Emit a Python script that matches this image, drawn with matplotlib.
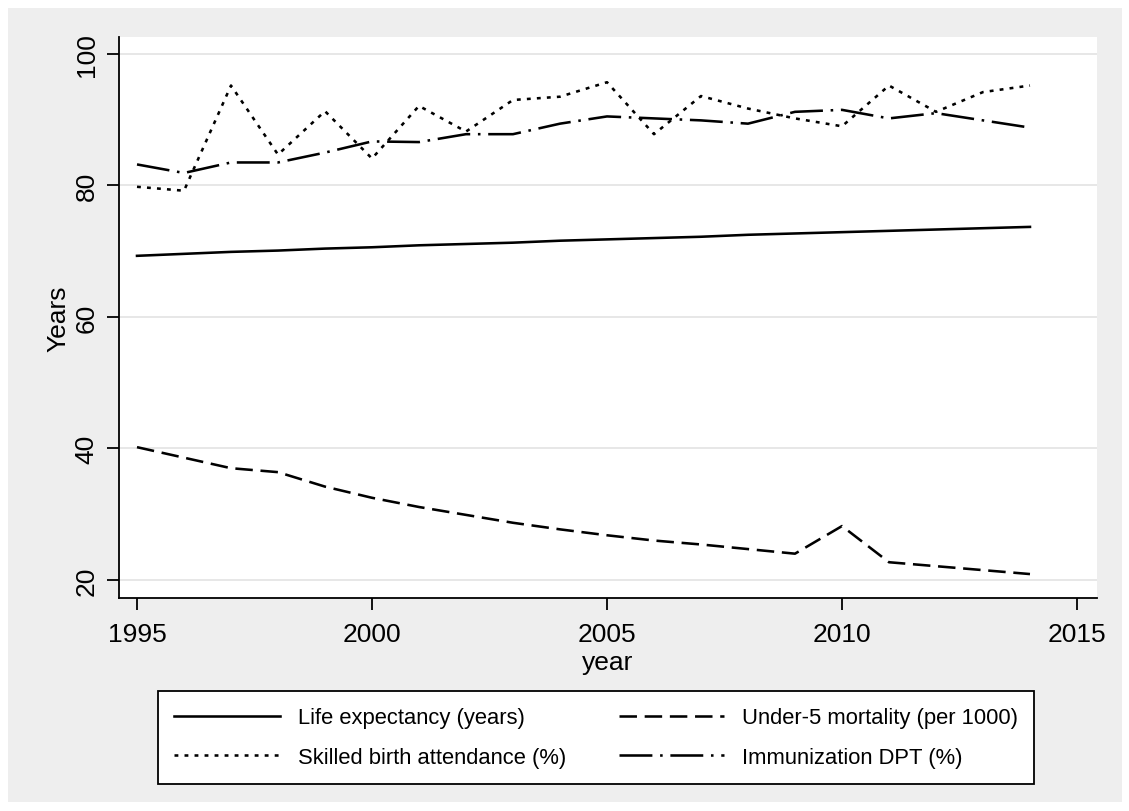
import matplotlib
matplotlib.use("Agg")
import matplotlib.pyplot as plt
from matplotlib.patches import Rectangle

plt.rcParams['font.family'] = ['Liberation Sans', 'DejaVu Sans']

years = list(range(1995, 2015))

life_expectancy = [69.3, 69.6, 69.9, 70.1, 70.4, 70.6, 70.9, 71.1, 71.3, 71.6,
                   71.8, 72.0, 72.2, 72.5, 72.7, 72.9, 73.1, 73.3, 73.5, 73.7]
under5_mortality = [40.2, 38.6, 37.0, 36.4, 34.2, 32.5, 31.1, 29.9, 28.7, 27.7,
                    26.8, 26.0, 25.4, 24.7, 24.0, 28.2, 22.7, 22.1, 21.5, 20.9]
skilled_birth = [79.8, 79.2, 95.2, 84.7, 91.3, 84.1, 92.1, 88.2, 93.0, 93.5,
                 95.7, 87.8, 93.6, 91.7, 90.2, 89.0, 95.2, 91.2, 94.2, 95.2]
immunization = [83.2, 81.9, 83.5, 83.5, 85.0, 86.7, 86.6, 87.8, 87.8, 89.4,
                90.5, 90.2, 89.9, 89.4, 91.2, 91.5, 90.2, 91.0, 89.9, 88.8]

labels = ["Life expectancy (years)", "Under-5 mortality (per 1000)",
          "Skilled birth attendance (%)", "Immunization DPT (%)"]

W, H = 1129, 812
fig = plt.figure(figsize=(W / 100, H / 100), dpi=100, facecolor='white')
# grey Stata-style graph region behind everything
fig.patches.append(Rectangle((8 / W, 1 - 803 / H), (1122 - 8) / W, (803 - 9) / H,
                             transform=fig.transFigure, facecolor='#eeeeee',
                             edgecolor='none', zorder=-10))

ax = fig.add_axes([119 / W, 1 - 599 / H, (1097 - 119) / W, (599 - 38) / H])
ax.set_facecolor('white')

lw = 1.85
l1, = ax.plot(years, life_expectancy, color='black', lw=lw, ls='-')
l2, = ax.plot(years, under5_mortality, color='black', lw=lw, ls=(0, (6.8, 3)))
l3, = ax.plot(years, skilled_birth, color='black', lw=lw, ls=(0, (1.5, 2.4)))
l4, = ax.plot(years, immunization, color='black', lw=lw, ls=(0, (12.8, 3, 1, 3)))

ax.set_xlim(1994.617, 2015.426)
ax.set_ylim(17.26, 102.58)
ax.set_xticks([1995, 2000, 2005, 2010, 2015])
ax.set_yticks([20, 40, 60, 80, 100])

ax.grid(axis='y', color='#e3e3e3', lw=1.2)
ax.set_axisbelow(True)
for s in ['top', 'right']:
    ax.spines[s].set_visible(False)
for s in ['left', 'bottom']:
    ax.spines[s].set_linewidth(1.3)

ax.tick_params(axis='both', direction='out', length=8.5, width=1.3,
               labelsize=19, pad=6)
ax.tick_params(axis='x', pad=9)
ax.tick_params(axis='y', labelrotation=90)
for t in ax.get_yticklabels():
    t.set_va('center')

ax.set_xlabel('year', fontsize=19, labelpad=3)
ax.set_ylabel('Years', fontsize=19, labelpad=3)

# legend is filled column by column, so order the handles to get row-wise layout
handles = [l1, l3, l2, l4]
leg_labels = [labels[0], labels[2], labels[1], labels[3]]
leg = fig.legend(handles, leg_labels, ncol=2, loc='upper left',
                 bbox_to_anchor=(158 / W, 1 - 692 / H), borderaxespad=0,
                 fontsize=15.8, frameon=True, fancybox=False, edgecolor='black',
                 facecolor='white', framealpha=1, handlelength=4.8,
                 handletextpad=0.82, columnspacing=2.4, borderpad=0.75,
                 labelspacing=0.84)
leg.get_frame().set_linewidth(1.3)

fig.savefig('out.png', dpi=100, facecolor=fig.get_facecolor())
